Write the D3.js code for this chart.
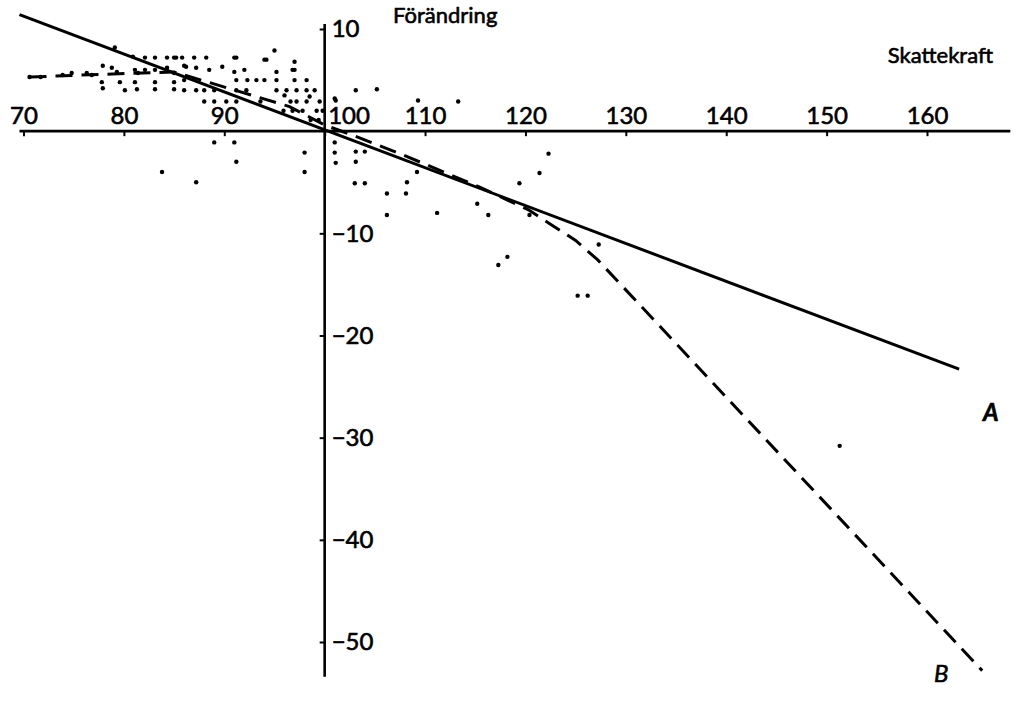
<!DOCTYPE html>
<html>
<head>
<meta charset="utf-8">
<script src="https://cdn.jsdelivr.net/npm/d3@7"></script>
<style>
  body { margin: 0; background: #fff; }
  svg { display: block; }
  text { font-family: Lato, "Noto Sans", sans-serif; fill: #000; stroke: #000; stroke-width: 0.6px; }
</style>
</head>
<body>
<div id="vis"></div>
<script>
// Frame
const FRAME_WIDTH = 1018;
const FRAME_HEIGHT = 702;

// Data: Skattekraft (x) vs Förändring (y)
const X_TICKS = [70, 80, 90, 100, 110, 120, 130, 140, 150, 160];
const Y_TICKS = [10, -10, -20, -30, -40, -50];

// line A (solid) - linear
const LINE_A = [[69.6, 11.4], [163.2, -23.3]];

// line B (dashed)
const LINE_B = [[70.6, 5.3], [78.9, 5.6], [85.0, 5.8], [96.5, 2.4], [100.0, 0.6],
                [102.8, -0.4], [107.5, -2.2], [115.5, -5.5], [120.3, -7.7],
                [125.0, -10.7], [127.2, -12.6], [165.5, -52.8]];

// observed kommuner
const PTS_X = [70.6, 71.7, 73.9, 74.8, 76.3, 76.8, 77.9, 77.8, 77.9, 78.8, 79.3, 79.6, 80.1, 79.1,
               80.9, 81.1, 81.4, 81.1, 81.3, 82.1, 82.1, 83.1, 83.1, 83.1, 83.1, 84.3, 84.3, 85.0,
               85.0, 85.0, 85.0, 85.8, 86.0, 86.0, 85.2, 86.0, 87.0, 88.2, 91.0, 94.2, 95.0, 94.0,
               91.2, 96.8, 86.2, 87.2, 88.5, 89.8, 91.0, 92.0, 97.0, 95.2, 91.2, 92.3, 93.2, 94.0,
               95.2, 97.0, 87.2, 88.0, 89.0, 91.2, 92.2, 95.2, 96.2, 97.2, 98.2, 99.0, 88.0, 89.0,
               90.2, 91.2, 93.6, 96.6, 97.2, 98.2, 99.5, 95.9, 96.8, 97.8, 99.2, 99.8, 98.6, 99.4,
               97.0, 98.2, 96.0, 98.5,
               89.0, 91.0, 91.2, 98.0, 98.0, 83.8, 87.2, 101.0, 101.0, 101.1, 103.1, 103.1, 104.0,
               103.0, 104.0, 106.2, 106.2, 108.2, 108.1, 109.2, 111.2, 115.2, 116.3, 117.3, 118.2,
               119.4, 120.4, 121.4, 122.3, 127.3, 125.2, 126.2,
               103.1, 105.2, 101.1, 109.3, 113.3, 101.0, 151.3];
const PTS_Y = [5.3, 5.3, 5.5, 5.7, 5.7, 5.5, 6.4, 4.8, 4.2, 6.2, 5.8, 4.8, 4.0, 8.2,
               7.3, 6.0, 5.7, 4.8, 4.1, 7.2, 6.0, 7.2, 6.0, 4.8, 4.1, 7.2, 6.2, 7.2,
               5.7, 4.8, 4.1, 7.2, 5.0, 4.0, 7.2, 6.4, 7.2, 7.2, 7.2, 7.0, 7.9, 7.0,
               7.2, 6.0, 6.3, 6.2, 6.0, 6.3, 5.8, 6.0, 6.0, 5.8, 5.0, 5.0, 5.0, 5.0,
               5.0, 5.0, 4.0, 4.0, 4.0, 4.0, 4.0, 4.0, 4.0, 4.0, 4.0, 4.0, 2.9, 2.9,
               2.9, 2.9, 2.9, 2.9, 2.9, 2.9, 2.9, 2.0, 2.0, 2.0, 2.0, 2.0, 1.1, 1.1,
               6.8, 5.0, 3.5, 3.4,
               -1.1, -1.1, -3.0, -2.1, -4.0, -4.0, -5.0, -1.1, -2.1, -3.1, -2.0, -3.0, -2.0,
               -5.1, -5.1, -6.1, -8.2, -5.0, -6.1, -4.0, -8.0, -7.1, -8.2, -13.1, -12.3,
               -5.1, -8.2, -4.1, -2.2, -11.1, -16.1, -16.1,
               4.0, 4.1, 3.0, 3.0, 2.9, 3.2, -30.8];

const X_SCALE = d3.scaleLinear().domain([70, 160]).range([23.5, 927]);
const Y_SCALE = d3.scaleLinear().domain([10, -50]).range([29, 642]);

const FRAME = d3.select("#vis")
                .append("svg")
                  .attr("width", FRAME_WIDTH)
                  .attr("height", FRAME_HEIGHT);

// points
FRAME.selectAll(".point")
     .data(d3.range(PTS_X.length))
     .enter()
     .append("circle")
       .attr("class", "point")
       .attr("cx", (i) => { return X_SCALE(PTS_X[i]); })
       .attr("cy", (i) => { return Y_SCALE(PTS_Y[i]); })
       .attr("r", 2.2)
       .attr("fill", "#000");

// x axis line + ticks (labels above)
FRAME.append("line")
     .attr("x1", X_SCALE(69.6)).attr("x2", X_SCALE(168.3))
     .attr("y1", Y_SCALE(0)).attr("y2", Y_SCALE(0))
     .attr("stroke", "#000").attr("stroke-width", 2.6);

const X_AXIS = FRAME.append("g")
     .attr("transform", "translate(0," + Y_SCALE(0) + ")")
     .call(d3.axisTop(X_SCALE).tickValues(X_TICKS).tickSizeInner(-5)
             .tickSizeOuter(0).tickPadding(7));
X_AXIS.select(".domain").remove();
X_AXIS.selectAll(".tick line").attr("stroke-width", 2);
X_AXIS.selectAll(".tick text")
      .attr("font-size", "24px")
      .attr("font-family", "Lato, sans-serif")
      .attr("fill", "#000")
      .each(function(d) {
        if (d === 100) { d3.select(this).attr("text-anchor", "start").attr("x", 3); }
      });

// y axis line + ticks (labels right)
FRAME.append("line")
     .attr("x1", X_SCALE(100)).attr("x2", X_SCALE(100))
     .attr("y1", Y_SCALE(10.5)).attr("y2", Y_SCALE(-53.4))
     .attr("stroke", "#000").attr("stroke-width", 2.6);

const Y_AXIS = FRAME.append("g")
     .attr("transform", "translate(" + X_SCALE(100) + ",0)")
     .call(d3.axisRight(Y_SCALE).tickValues(Y_TICKS).tickSizeInner(-5)
             .tickSizeOuter(0).tickPadding(7));
Y_AXIS.select(".domain").remove();
Y_AXIS.selectAll(".tick line").attr("stroke-width", 2);
Y_AXIS.selectAll(".tick text")
      .attr("font-size", "24px")
      .attr("font-family", "Lato, sans-serif")
      .attr("fill", "#000");

// lines
const LINE = d3.line()
               .x((d) => { return X_SCALE(d[0]); })
               .y((d) => { return Y_SCALE(d[1]); });

FRAME.append("path")
     .attr("d", LINE(LINE_A))
     .attr("fill", "none").attr("stroke", "#000").attr("stroke-width", 3);

FRAME.append("path")
     .attr("d", LINE(LINE_B))
     .attr("fill", "none").attr("stroke", "#000").attr("stroke-width", 3)
     .attr("stroke-dasharray", "17,9");

// labels
FRAME.append("text").attr("x", 393).attr("y", 23)
     .attr("font-size", "22px").text("Förändring");
FRAME.append("text").attr("x", 993).attr("y", 63)
     .attr("text-anchor", "end").attr("font-size", "22px").text("Skattekraft");
FRAME.append("text").attr("x", 983).attr("y", 421)
     .attr("font-size", "24px").attr("font-style", "italic").attr("font-weight", "bold").text("A");
FRAME.append("text").attr("x", 934).attr("y", 682)
     .attr("font-size", "24px").attr("font-style", "italic").text("B");
</script>
</body>
</html>
